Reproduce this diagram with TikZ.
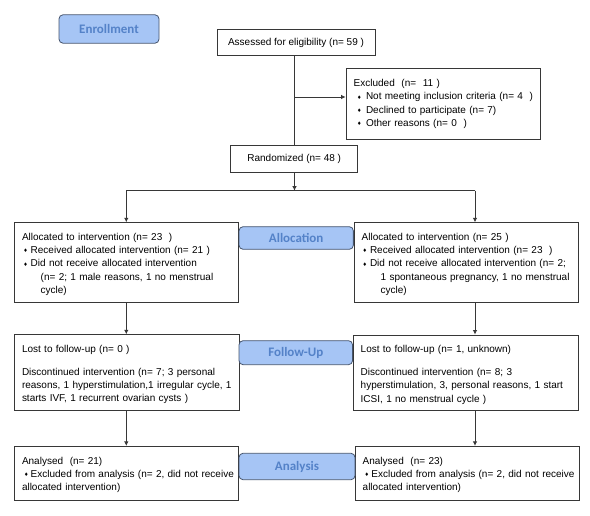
\documentclass[tikz,border=0pt]{standalone}
\usepackage{fontspec}
\setmainfont{Liberation Sans}
\newfontfamily\labfont{Carlito}
\newfontfamily\dvs{DejaVu Sans}
\usetikzlibrary{arrows.meta,calc}
\definecolor{labfill}{RGB}{166,197,245}
\definecolor{labdraw}{RGB}{70,85,110}
\definecolor{labtext}{RGB}{84,130,200}
\definecolor{boxdraw}{RGB}{55,55,55}
\newcommand\dia{{\dvs\fontsize{5}{5}\selectfont\raisebox{0.8pt}{♦}}}
\newcommand\bul[2]{\makebox[#2][l]{\hspace*{#1}\dia}}
\newcommand\myline[1]{\mbox{#1}}
\newcommand\topgap{\rule{0pt}{11pt}}
\begin{document}
\begin{tikzpicture}[x=1pt,y=-1pt,
 box/.style={draw=boxdraw,line width=0.8pt,fill=white,font=\fontsize{10}{13.2}\selectfont,align=left,inner xsep=7.7pt,inner ysep=0pt},
 lab/.style={draw=labdraw,line width=0.8pt,fill=labfill,rounded corners=4pt,text=labtext,font=\labfont\bfseries\fontsize{13}{15}\selectfont,inner sep=0pt},
 ctr/.style={draw=boxdraw,line width=0.8pt,fill=white,font=\fontsize{10}{12}\selectfont,inner sep=0pt},
 arr/.style={draw=boxdraw,line width=0.8pt,-{Latex[length=4.5pt,width=4.5pt]}},
 lnk/.style={draw=boxdraw,line width=0.8pt}]
\useasboundingbox (0,0) rectangle (590,516);

\node[lab,minimum width=100pt,minimum height=28.4pt] (enroll) at (109,29) {Enrollment};
\node[ctr,minimum width=158pt,minimum height=26.4pt] (assess) at (296,42.5) {Assessed for eligibility (n= 59 )};
\node[box,text width=178.6pt,minimum height=71.7pt] (excl) at (443,103.85)
 {\myline{Excluded~ (n=~ 11 )}\\
  \myline{\bul{3.3pt}{12.3pt}Not meeting inclusion criteria (n= 4~ )}\\
  \myline{\bul{3.3pt}{12.3pt}Declined to participate (n= 7)}\\
  \myline{\bul{3.3pt}{12.3pt}Other reasons (n= 0~ )}\par\vspace{3.5pt}};
\node[ctr,minimum width=127pt,minimum height=27pt] (rand) at (294.2,158.8) {Randomized (n= 48 )};

\node[box,text width=209pt,minimum height=79.3pt] (allocL) at (126.5,262.35)
 {\topgap\myline{Allocated to intervention (n= 23~ )}\\
  \myline{\bul{1.5pt}{8.7pt}Received allocated intervention (n= 21 )}\\
  \myline{\bul{1.5pt}{8.7pt}Did not receive allocated intervention}\\
  \myline{\hspace*{18.7pt}(n= 2; 1 male reasons, 1 no menstrual}\\
  \myline{\hspace*{18.7pt}cycle)}};
\node[box,text width=208.6pt,minimum height=79.3pt] (allocR) at (466,262.35)
 {\topgap\myline{Allocated to intervention (n= 25 )}\\
  \myline{\bul{1pt}{8.3pt}Received allocated intervention (n= 23~ )}\\
  \myline{\bul{1pt}{8.3pt}Did not receive allocated intervention (n= 2;}\\
  \myline{\hspace*{19pt}1 spontaneous pregnancy, 1 no menstrual}\\
  \myline{\hspace*{19pt}cycle)}};
\node[lab,minimum width=114.3pt,minimum height=22.6pt] (alloclab) at (296.2,238) {Allocation};

\node[box,text width=209.6pt,minimum height=76pt] (fuL) at (126.8,372.7)
 {\topgap\myline{Lost to follow-up (n= 0 )}\\[10pt]
  \myline{Discontinued intervention (n= 7; 3 personal}\\
  \myline{reasons, 1 hyperstimulation,1 irregular cycle, 1}\\
  \myline{starts IVF, 1 recurrent ovarian cysts )}};
\node[box,text width=209.6pt,minimum height=75.7pt] (fuR) at (465.5,372.8)
 {\topgap\myline{Lost to follow-up (n= 1, unknown)}\\[10pt]
  \myline{Discontinued intervention (n= 8; 3}\\
  \myline{hyperstimulation, 3, personal reasons, 1 start}\\
  \myline{ICSI, 1 no menstrual cycle )}};
\node[lab,minimum width=113.5pt,minimum height=24pt] (fulab) at (295.8,352.7) {Follow-Up};

\node[box,text width=209pt,minimum height=54pt] (anL) at (126.5,473.3)
 {\topgap\myline{Analysed~ (n= 21)}\\
  \myline{\bul{2pt}{8.7pt}Excluded from analysis (n= 2, did not receive}\\
  \myline{allocated intervention)}};
\node[box,text width=208.6pt,minimum height=54pt] (anR) at (467,473.3)
 {\topgap\myline{Analysed~ (n= 23)}\\
  \myline{\bul{2pt}{8.7pt}Excluded from analysis (n= 2, did not receive}\\
  \myline{allocated intervention)}};
\node[lab,minimum width=116pt,minimum height=26.4pt] (anlab) at (297,466.5) {Analysis};

\coordinate (j1) at (294.5,97);
\draw[lnk] (assess.south -| j1) -- (rand.north -| j1);
\draw[arr] (j1) -- (j1 -| excl.west);
\coordinate (split) at (294.5,190.7);
\draw[arr] (rand.south -| split) -- (split);
\coordinate (lc) at (126.3,190.7);
\coordinate (rc) at (475,190.7);
\draw[lnk] (lc) -- (rc);
\draw[arr] (lc) -- (lc |- allocL.north);
\draw[arr] (rc) -- (rc |- allocR.north);
\draw[arr] (allocL.south -| lc) -- (fuL.north -| lc);
\draw[arr] (allocR.south -| rc) -- (fuR.north -| rc);
\draw[arr] (fuL.south -| lc) -- (anL.north -| lc);
\draw[arr] (fuR.south -| rc) -- (anR.north -| rc);
\end{tikzpicture}
\end{document}
